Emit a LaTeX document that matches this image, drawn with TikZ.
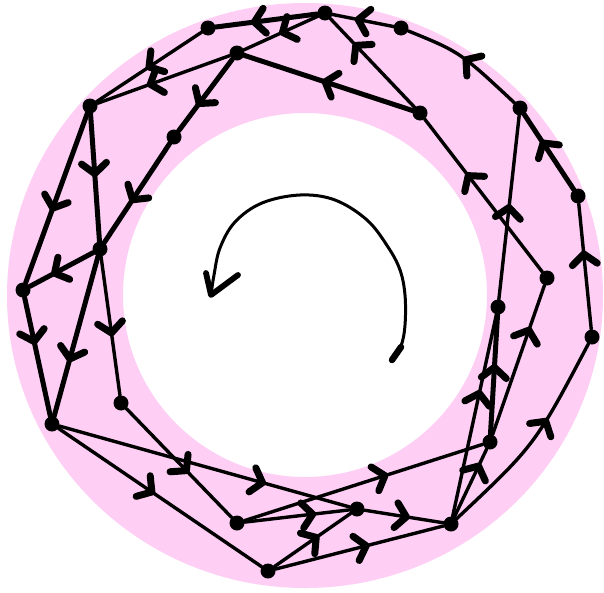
\documentclass[tikz,border=0pt]{standalone}
\usetikzlibrary{decorations.markings}
\definecolor{pinkbg}{RGB}{254,206,245}
\tikzset{
  vtx/.style={circle, fill=black, inner sep=0pt, minimum size=15pt},
  edge/.style={line width=3.4pt, line cap=round, line join=round},
  thk/.style={line width=5pt},
  arr/.style={postaction={decorate, decoration={markings, mark=at position #1 with {\draw[line width=7pt, line cap=round, line join=round] (-10.5pt,12.5pt) -- (0,0) -- (-10.5pt,-12.5pt);}}}},
}
\begin{document}
\begin{tikzpicture}[x=1pt,y=-1pt]
\useasboundingbox (0,0) rectangle (604,592);
\fill[white] (0,0) rectangle (604,592);
\fill[pinkbg, even odd rule] (305,295.5) ellipse [x radius=298, y radius=292.5] (305,295) circle [radius=182];

% nodes
\node[vtx] (A) at (325,13) {};
\node[vtx] (B) at (208,28) {};
\node[vtx] (C) at (237,53) {};
\node[vtx] (D) at (90,106) {};
\node[vtx] (E) at (174,137) {};
\node[vtx] (F) at (100,249) {};
\node[vtx] (G) at (23,290) {};
\node[vtx] (H) at (401,28) {};
\node[vtx] (I) at (420,113) {};
\node[vtx] (J) at (520,108) {};
\node[vtx] (K) at (578,196) {};
\node[vtx] (L) at (547,278) {};
\node[vtx] (M) at (498,307) {};
\node[vtx] (N) at (592,337) {};
\node[vtx] (O) at (490,442) {};
\node[vtx] (P) at (451,524) {};
\node[vtx] (Q) at (357,509) {};
\node[vtx] (R) at (237,523) {};
\node[vtx] (S) at (268,571) {};
\node[vtx] (T) at (52,424) {};
\node[vtx] (U) at (121,403) {};

% edges
\draw[edge,thk,arr=0.62] (A) -- (B);
\draw[edge,arr=0.48] (A) -- (C);
\draw[edge,thk,arr=0.52] (I) -- (C);
\draw[edge,arr=0.7] (I) -- (A);
\draw[edge,arr=0.58] (H) -- (A);
\draw[edge,arr=0.5] (J) .. controls (460,52) .. (H);
\draw[edge,thk,arr=0.62] (K) -- (J);
\draw[edge,arr=0.6] (N) -- (K);
\draw[edge,arr=0.63] (L) -- (I);
\draw[edge,arr=0.5] (M) -- (J);
\draw[edge,thk,arr=0.56] (O) -- (M);
\draw[edge,arr=0.7] (O) -- (L);
\draw[edge,arr=0.61] (P) -- (M);
\draw[edge,arr=0.75] (P) -- (O);
\draw[edge,arr=0.6] (P) .. controls (535,445) .. (N);
\draw[edge,arr=0.59] (R) -- (O);
\draw[edge,arr=0.53] (Q) -- (P);
\draw[edge,arr=0.54] (S) -- (P);
\draw[edge,arr=0.55] (S) -- (Q);
\draw[edge,arr=0.65] (R) -- (Q);
\draw[edge,arr=0.7] (T) -- (Q);
\draw[edge,arr=0.46] (T) -- (S);
\draw[edge,arr=0.57] (U) -- (R);
\draw[edge,arr=0.55] (F) -- (U);
\draw[edge,thk,arr=0.64] (F) -- (T);
\draw[edge,thk,arr=0.37] (G) -- (T);
\draw[edge,thk,arr=0.61] (F) -- (G);
\draw[edge,thk,arr=0.56] (D) -- (G);
\draw[edge,thk,arr=0.47] (D) -- (F);
\draw[edge,thk,arr=0.57] (E) -- (F);
\draw[edge,thk,arr=0.62] (C) -- (E);
\draw[edge,arr=0.6] (C) -- (D);
\draw[edge,arr=0.5] (B) -- (D);

% central rotation arrow
\coordinate (cs) at (392,360);
\coordinate (ce) at (211,295);
\draw[line width=3pt, line cap=round] plot[smooth, tension=0.6] coordinates {(392,360) (401,346) (405,325) (405,295) (400,270) (388,247) (367,220) (335,200) (300,195) (262,203) (235,222) (220,248) (214,275) (211,295)};
\draw[line width=6.5pt, line cap=round] (cs) -- (401,347);
\draw[line width=5.8pt, line cap=round, line join=round] (206,273) -- (ce) -- (238,275);
\end{tikzpicture}
\end{document}
